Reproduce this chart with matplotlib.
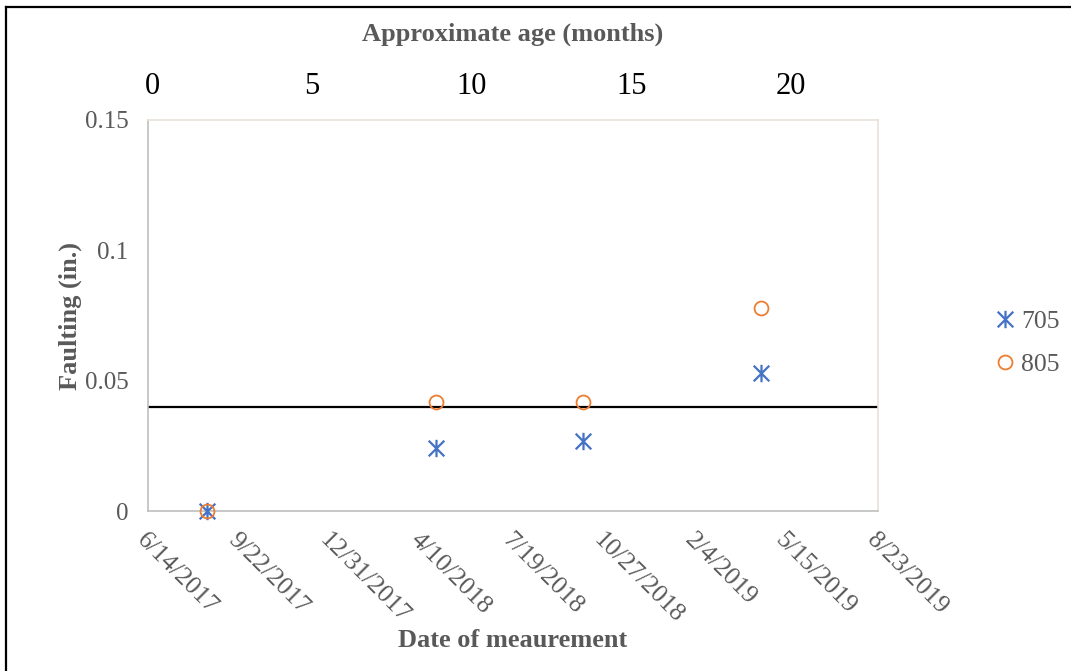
import matplotlib
matplotlib.use("Agg")
import matplotlib.pyplot as plt
import matplotlib.dates as mdates
from matplotlib.path import Path
from matplotlib.lines import Line2D
import numpy as np
import datetime as dt

plt.rcParams['font.family'] = ['Liberation Serif', 'DejaVu Serif']

# measurement dates and faulting readings (in.)
meas_dates = ["2017-08-18", "2018-04-26", "2018-10-04", "2019-04-17"]
fault_705 = [0.0, 0.024, 0.027, 0.053]
fault_805 = [0.0, 0.042, 0.042, 0.078]
threshold = 0.04

date_start = "2017-06-14"
date_end = "2019-08-23"
tick_step_days = 100
y_ticks = [0, 0.05, 0.1, 0.15]
y_tick_labels = ["0", "0.05", "0.1", "0.15"]
age_ticks = [0, 5, 10, 15, 20]

gray = "#595959"
blue = "#4472C4"
orange = "#ED7D31"

# Excel-style star marker: an x with a vertical bar through it
star = Path([(-0.9, -0.9), (0.9, 0.9), (-0.9, 0.9), (0.9, -0.9), (0, -1), (0, 1)],
            [Path.MOVETO, Path.LINETO, Path.MOVETO, Path.LINETO, Path.MOVETO, Path.LINETO])

fig = plt.figure(figsize=(10.71, 6.71), dpi=100)
ax = fig.add_axes([148 / 1071, 1 - 511 / 671, 730 / 1071, 391 / 671])

x = mdates.date2num([dt.date.fromisoformat(d) for d in meas_dates])
d0 = dt.date.fromisoformat(date_start)
d1 = dt.date.fromisoformat(date_end)

ax.axhline(threshold, color="black", lw=1.6, zorder=2)
ax.plot(x, fault_705, ls="none", marker=star, ms=12.5, mec=blue, mfc="none", mew=1.6,
        label="705", zorder=3, clip_on=False)
ax.plot(x, fault_805, ls="none", marker="o", ms=10, mec=orange, mfc="none", mew=1.3,
        label="805", zorder=4, clip_on=False)

ax.set_xlim(mdates.date2num(d0), mdates.date2num(d1))
ax.set_ylim(0, 0.15)

xt = [d0 + dt.timedelta(days=k) for k in range(0, (d1 - d0).days + 1, tick_step_days)]
ax.set_xticks(mdates.date2num(xt))
ax.set_xticklabels([f"{d.month}/{d.day}/{d.year}" for d in xt])
for lbl in ax.get_xticklabels():
    lbl.set_rotation(-45)
    lbl.set_rotation_mode("anchor")
    lbl.set_ha("left")
    lbl.set_va("top")
ax.set_yticks(y_ticks)
ax.set_yticklabels(y_tick_labels)
ax.tick_params(axis="x", length=0, pad=13, labelsize=18.5, labelcolor=gray)
ax.tick_params(axis="y", length=0, pad=14, labelsize=18, labelcolor=gray)

for side in ["top", "right"]:
    ax.spines[side].set_color("#e8e3da")
for side in ["left", "bottom"]:
    ax.spines[side].set_color("#bfbfbf")
for s in ax.spines.values():
    s.set_linewidth(1.2)

ax.set_xlabel("Date of meaurement", fontsize=19, fontweight="bold", color=gray, labelpad=1)
ax.set_ylabel("Faulting (in.)", fontsize=19, fontweight="bold", color=gray, labelpad=2)

# secondary age axis on top
ax2 = ax.twiny()
ax2.set_xlim(-0.125, 22.72)
ax2.set_xticks(age_ticks)
ax2.tick_params(axis="x", length=0, pad=14, labelsize=22, labelcolor="black")
for s in ax2.spines.values():
    s.set_visible(False)
ax2.set_xlabel("Approximate age (months)", fontsize=19, fontweight="bold", color=gray, labelpad=22)

fig.legend(loc="center left", bbox_to_anchor=(993 / 1071, 1 - 343 / 671), frameon=False,
           fontsize=18.5, handlelength=0.95, handletextpad=0.15, labelspacing=0.75,
           borderpad=0, borderaxespad=0, labelcolor=gray)

# outer border lines
fig.add_artist(Line2D([6 / 1071, 1], [1 - 7 / 671, 1 - 7 / 671], color="black", lw=1.6,
                      transform=fig.transFigure))
fig.add_artist(Line2D([6 / 1071, 6 / 1071], [0, 1 - 7 / 671], color="black", lw=1.6,
                      transform=fig.transFigure))

fig.savefig("out.png", dpi=100)
